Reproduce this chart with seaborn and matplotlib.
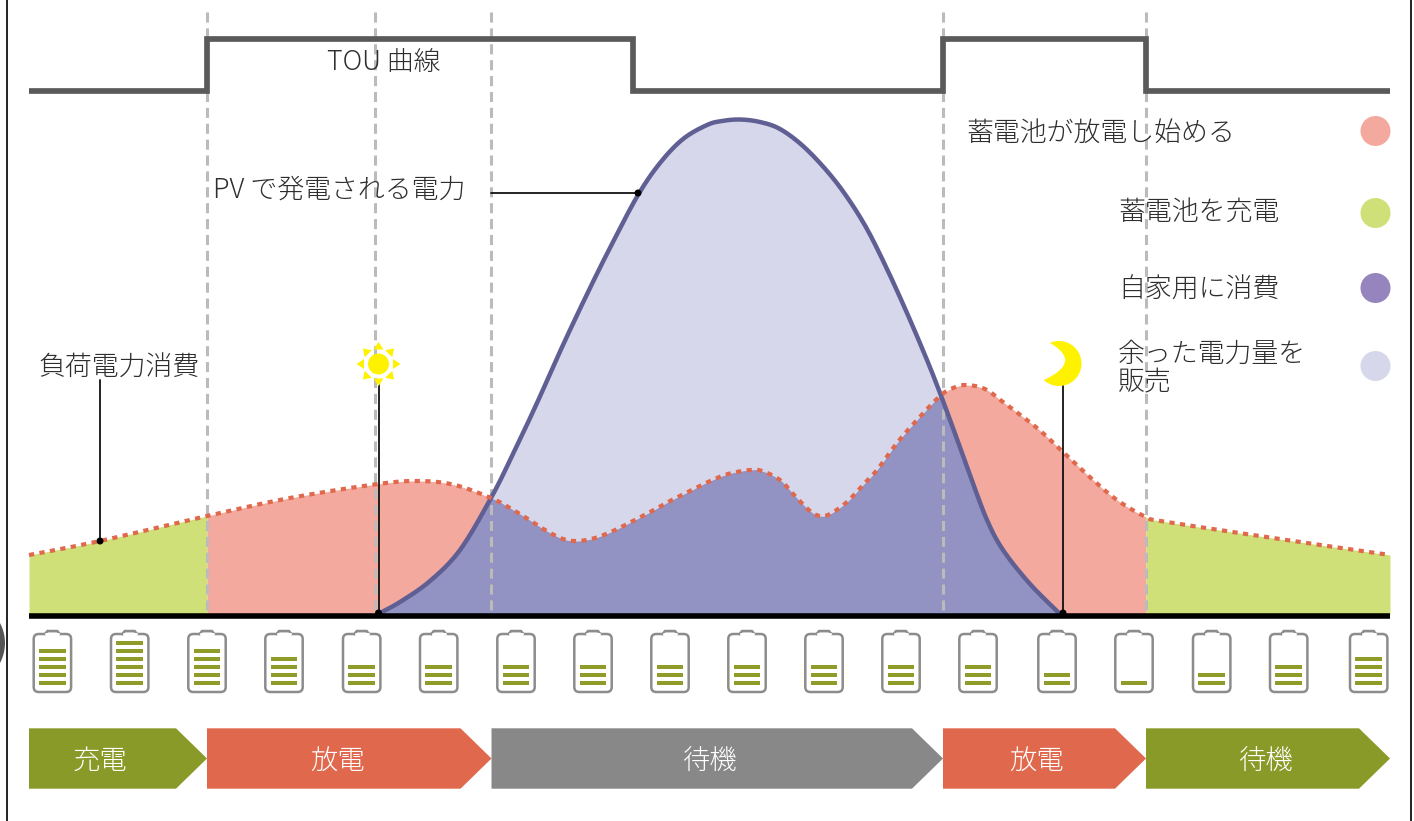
import numpy as np
import pandas as pd
import matplotlib
matplotlib.use("Agg")
import matplotlib.pyplot as plt
from matplotlib.patches import Circle, FancyBboxPatch, Polygon, Rectangle
import seaborn as sns

# ---- data (canvas units) ----
load_x = [29, 100, 207, 290, 378, 420, 455, 491, 510, 528, 545, 563, 578, 595, 613, 633, 652, 670, 690, 708, 728,
          750, 762, 780, 795, 810, 820, 830, 847, 863, 877, 897, 917, 940, 953, 966, 985, 1003, 1037, 1063, 1092,
          1117, 1146, 1167, 1300, 1390]
load_y = [555, 541, 516, 498, 484, 481, 485, 498, 508, 519, 530, 539, 541, 538, 531, 521, 511, 501, 491, 482, 474,
          470, 471, 480, 496, 511, 516, 514, 502, 485, 470, 443, 420, 396, 388, 385, 389, 402, 428, 452, 479,
          500, 517, 522, 542, 555]
pv_x = [378, 400, 430, 460, 491, 513, 537, 563, 590, 613, 638, 660, 683, 707, 722, 740, 760, 780, 803, 827, 847,
        867, 887, 907, 927, 940, 953, 971, 987, 1003, 1030, 1060]
pv_y = [614, 602, 581, 550, 498, 454, 403, 345, 288, 242, 195, 163, 139, 125, 121, 119.5, 122, 129, 146, 171, 197,
        229, 269, 313, 360, 393, 428, 478, 520, 550, 584, 614]
tou_x = [29, 207, 207, 633, 633, 943, 943, 1146, 1146, 1390]
tou_y = [91.5, 91.5, 39.5, 39.5, 91.5, 91.5, 39.5, 39.5, 91.5, 91.5]
guides_x = [207, 375, 491, 943, 1146]
battery_x = [52.4, 129.7, 207, 284, 361.7, 438.7, 516, 593, 670, 747, 824, 901, 978, 1057, 1134, 1211.7,
             1288.7, 1368.7]
battery_bars = [5, 6, 5, 4, 3, 3, 3, 3, 3, 3, 3, 3, 3, 2, 1, 2, 3, 4]
stage_labels = ["充電", "放電", "待機", "放電", "待機"]
stage_start = [29, 207, 491.5, 943, 1146]
stage_end = [207, 491.5, 943, 1146, 1390]
stage_colors = ["#8a9a28", "#e0684d", "#888888", "#e0684d", "#8a9a28"]
legend_labels = ["蓄電池が放電し始める", "蓄電池を充電", "自家用に消費", "余った電力量を\n販売"]
legend_text_x = [966, 1118, 1118, 1118]
legend_text_y = [133, 212, 290, 368]
legend_dot_y = [131, 213, 288, 366]
legend_colors = ["#f4a99e", "#d0e078", "#9584bd", "#d6d7eb"]

BASE = 615
GREEN, SALMON, PURPLE, LILAC = "#d0e078", "#f4a99e", "#9292c3", "#d6d7eb"
TXT = "#2e2e2e"


def smooth(x, y, n=12):
    """Catmull-Rom rendering of the read points."""
    x, y = np.asarray(x, float), np.asarray(y, float)
    px = np.r_[x[0], x, x[-1]]
    py = np.r_[y[0], y, y[-1]]
    ox, oy = [], []
    for i in range(1, len(px) - 2):
        t = np.linspace(0, 1, n, endpoint=False)
        for p, o in ((px, ox), (py, oy)):
            o.extend(0.5 * (2 * p[i] + (p[i + 1] - p[i - 1]) * t
                            + (2 * p[i - 1] - 5 * p[i] + 4 * p[i + 1] - p[i + 2]) * t ** 2
                            + (3 * p[i] - p[i - 1] - 3 * p[i + 1] + p[i + 2]) * t ** 3))
    ox.append(x[-1])
    oy.append(y[-1])
    return np.array(ox), np.array(oy)


sns.set_theme(style="white")
plt.rcParams["font.family"] = ["Noto Sans CJK JP", "DejaVu Sans"]
plt.rcParams["font.weight"] = "light"

fig = plt.figure(figsize=(14.14, 8.21), dpi=100)
ax = fig.add_axes([0, 0, 1, 1])
ax.set_xlim(0, 1414)
ax.set_ylim(821, 0)
ax.set_axis_off()

lx, ly = smooth(load_x, load_y)
px, py = smooth(pv_x, pv_y)
grid = np.arange(29, 1390.5, 0.5)
l_grid = np.interp(grid, lx, ly)
p_grid = np.interp(grid, px, py, left=BASE, right=BASE)
inside = (grid >= pv_x[0]) & (grid <= pv_x[-1])

ax.fill_between(grid, l_grid, BASE, where=grid <= 207, color=GREEN, lw=0, zorder=1)
ax.fill_between(grid, l_grid, BASE, where=(grid >= 207) & (grid <= 1146), color=SALMON, lw=0, zorder=1)
ax.fill_between(grid, l_grid, BASE, where=grid >= 1146, color=GREEN, lw=0, zorder=1)
ax.fill_between(grid, p_grid, l_grid, where=inside & (p_grid < l_grid), color=LILAC, lw=0, zorder=2)
ax.fill_between(grid, np.maximum(p_grid, l_grid), BASE, where=inside, color=PURPLE, lw=0, zorder=2)

for gx in guides_x:
    ax.plot([gx, gx], [12, 613], color="#bbbbbb", lw=2.2, linestyle=(0, (3.3, 1.9)), zorder=3)

sns.lineplot(data=pd.DataFrame({"x": px, "y": py}), x="x", y="y", ax=ax, sort=False, estimator=None,
             color="#5f5f93", lw=3.2, zorder=4)
sns.lineplot(data=pd.DataFrame({"x": lx, "y": ly}), x="x", y="y", ax=ax, sort=False, estimator=None,
             color="#e0684d", lw=3.0, linestyle=(0, (1.25, 1.3)), zorder=5)
sns.lineplot(data=pd.DataFrame({"x": tou_x, "y": tou_y}), x="x", y="y", ax=ax, sort=False, estimator=None,
             color="#5a5a5a", lw=4.1, zorder=6, solid_joinstyle="miter", solid_capstyle="butt")
ax.plot([29, 1390], [615.8, 615.8], color="black", lw=4.0, solid_capstyle="butt", zorder=6)

# callouts
for xs, ys in [([491, 638], [193, 193]), ([100, 100], [380, 541]),
               ([378.5, 378.5], [385, 613]), ([1063, 1063], [385, 613])]:
    ax.plot(xs, ys, color="#111111", lw=1.3, zorder=7)
    ax.add_patch(Circle((xs[1], ys[1]), 2.8, color="black", zorder=7))

# sun
sx, sy = 378.5, 364
ax.add_patch(Circle((sx, sy), 10.5, color="#fff200", lw=0, zorder=8))
for a in np.deg2rad(np.arange(0, 360, 45)):
    d, n = np.array([np.cos(a), np.sin(a)]), np.array([-np.sin(a), np.cos(a)])
    c = np.array([sx, sy])
    ax.add_patch(Polygon([c + d * 14.5 + n * 5, c + d * 14.5 - n * 5, c + d * 22], color="#fff200", lw=0, zorder=8))

# moon
mx, my, mr = 1059, 363.5, 22.5
ang = np.deg2rad(np.linspace(-114, 132.7, 60))
outer = np.c_[mx + mr * np.cos(ang), my + mr * np.sin(ang)]
t = np.linspace(0, 1, 30)[:, None]
p0, p1, p2 = outer[-1], np.array([1083, 362.0]), outer[0]
inner = (1 - t) ** 2 * p0 + 2 * t * (1 - t) * p1 + t ** 2 * p2
ax.add_patch(Polygon(np.r_[outer, inner], color="#fff200", lw=0, zorder=8))

# batteries
for bx, count in zip(battery_x, battery_bars):
    ax.add_patch(Polygon([(bx - 8, 635), (bx - 5, 631), (bx + 5, 631), (bx + 8, 635)], closed=False,
                         fc="white", ec="#8c8c8c", lw=1.8, joinstyle="round", zorder=3))
    ax.add_patch(FancyBboxPatch((bx - 18.7, 634), 37.4, 58, boxstyle="round,pad=0,rounding_size=5",
                                fc="none", ec="#8c8c8c", lw=1.8, zorder=3))
    ax.plot([bx - 6, bx + 6], [634, 634], color="white", lw=2.2, zorder=4)
    for k in range(count):
        yc = 683.3 - 8.05 * k
        ax.add_patch(Rectangle((bx - 13.4, yc - 2.2), 26.8, 4.4, color="#8f9c28", lw=0, zorder=5))

# stage arrows
for label, a, b, col in zip(stage_labels, stage_start, stage_end, stage_colors):
    ax.add_patch(Polygon([(a, 728.3), (b - 31, 728.3), (b, 758.5), (b - 31, 788.7), (a, 788.7)],
                         color=col, lw=0, zorder=2))
centers = [100, 338, 709, 1037, 1265]
for label, cx in zip(stage_labels, centers):
    ax.text(cx, 761, label, color="white", fontsize=19.7, ha="center", va="center", zorder=6)

# texts
ax.text(327, 62.5, "TOU 曲線", color=TXT, fontsize=19.3, ha="left", va="center", zorder=9)
ax.text(213, 190, "PV で発電される電力", color=TXT, fontsize=19.4, ha="left", va="center", zorder=9)
ax.text(38, 368, "負荷電力消費", color=TXT, fontsize=19.4, ha="left", va="center", zorder=9)
for label, tx, ty, dy, col in zip(legend_labels, legend_text_x, legend_text_y, legend_dot_y, legend_colors):
    ax.text(tx, ty, label, color=TXT, fontsize=19.4, ha="left", va="center", linespacing=1.02, zorder=9)
    ax.add_patch(Circle((1375.5, dy), 15, color=col, lw=0, zorder=9))

# frame remnants
ax.plot([6.5, 6.5], [0, 821], color="#222222", lw=1.4, zorder=10)
ax.plot([1411, 1411], [0, 821], color="#222222", lw=1.4, zorder=10)
ax.add_patch(Circle((-37.5, 643), 42.5, color="#555555", lw=0, zorder=9))

fig.savefig("out.png", dpi=100)
